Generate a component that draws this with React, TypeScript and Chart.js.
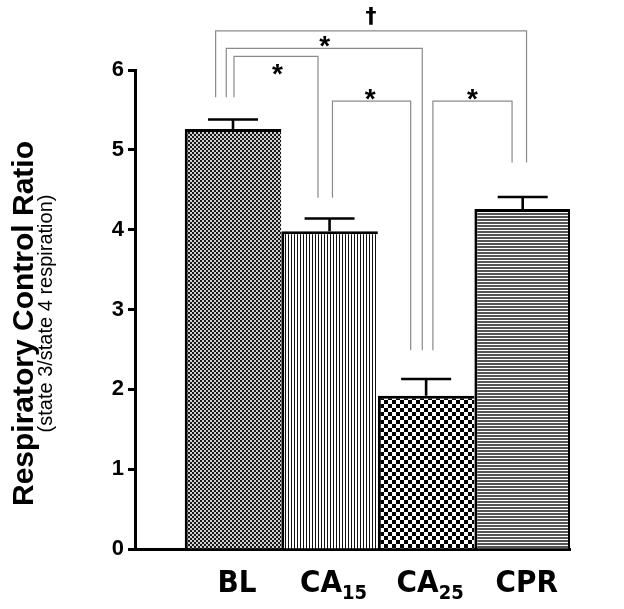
import { useEffect, useRef } from 'react';
import { Chart, registerables } from 'chart.js';

Chart.register(...registerables);

const categories = ['BL', 'CA15', 'CA25', 'CPR'];
const means = [5.26, 3.98, 1.92, 4.26];
const sems = [0.12, 0.16, 0.21, 0.15];
const yTicks = [0, 1, 2, 3, 4, 5, 6];
const yTitle = 'Respiratory Control Ratio';
const ySubtitle = '(state 3/state 4 respiration)';

// significance brackets (data units)
const bracketLabels = ['\u2020', '*', '*', '*', '*'];
const bracketX1 = [-0.18, -0.07, 0.01, 1.03, 2.07];
const bracketX2 = [3.04, 1.96, 0.88, 1.84, 2.89];
const bracketTop = [6.49, 6.27, 6.17, 5.61, 5.61];
const bracketLeftEnd = [5.66, 5.66, 5.66, 4.4, 2.49];
const bracketRightEnd = [4.84, 2.49, 4.4, 2.49, 4.84];
const bracketLabelX = [1.43, 0.95, 0.46, 1.42, 2.48];
const bracketLabelY = [6.68, 6.37, 6.02, 5.71, 5.71];

function makePattern(kind: number): CanvasPattern | string {
  const c = document.createElement('canvas');
  const g = c.getContext('2d');
  if (!g) return '#888';
  if (kind === 0) {
    c.width = 4; c.height = 4;
    g.fillStyle = '#d0d0d0'; g.fillRect(0, 0, 4, 4);
    g.fillStyle = '#181818';
    g.fillRect(0, 0, 2, 2); g.fillRect(2, 2, 2, 2);
  } else if (kind === 1) {
    c.width = 3; c.height = 3;
    g.fillStyle = '#ffffff'; g.fillRect(0, 0, 3, 3);
    g.fillStyle = '#111111'; g.fillRect(0, 0, 1, 3);
  } else if (kind === 2) {
    c.width = 8; c.height = 8;
    g.fillStyle = '#ffffff'; g.fillRect(0, 0, 8, 8);
    g.fillStyle = '#000000';
    g.fillRect(0, 0, 4, 4); g.fillRect(4, 4, 4, 4);
  } else {
    c.width = 3; c.height = 3;
    g.fillStyle = '#ffffff'; g.fillRect(0, 0, 3, 3);
    g.fillStyle = '#555555'; g.fillRect(0, 0, 3, 2);
  }
  return g.createPattern(c, 'repeat') || '#888';
}

const overlayPlugin = {
  id: 'overlay',
  afterDraw(chart: any) {
    const { ctx, scales } = chart;
    const xs = scales.x;
    const ys = scales.y;
    ctx.save();
    // error bars
    ctx.strokeStyle = '#000';
    ctx.lineWidth = 2.6;
    means.forEach((m, i) => {
      const cx = xs.getPixelForValue(i);
      const y0 = ys.getPixelForValue(m);
      const y1 = ys.getPixelForValue(m + sems[i]);
      ctx.beginPath();
      ctx.moveTo(cx, y0);
      ctx.lineTo(cx, y1);
      ctx.moveTo(cx - 25, y1);
      ctx.lineTo(cx + 25, y1);
      ctx.stroke();
    });
    // brackets
    ctx.strokeStyle = '#8a8a8a';
    ctx.lineWidth = 1.2;
    bracketLabels.forEach((lab, i) => {
      const x1 = xs.getPixelForValue(bracketX1[i]);
      const x2 = xs.getPixelForValue(bracketX2[i]);
      const yt = ys.getPixelForValue(bracketTop[i]);
      ctx.beginPath();
      ctx.moveTo(x1, ys.getPixelForValue(bracketLeftEnd[i]));
      ctx.lineTo(x1, yt);
      ctx.lineTo(x2, yt);
      ctx.lineTo(x2, ys.getPixelForValue(bracketRightEnd[i]));
      ctx.stroke();
      ctx.fillStyle = '#000';
      ctx.textAlign = 'center';
      ctx.textBaseline = 'middle';
      const lx = xs.getPixelForValue(bracketLabelX[i]);
      const ly = ys.getPixelForValue(bracketLabelY[i]);
      if (lab === '*') {
        ctx.font = 'bold 28px "Liberation Sans"';
        ctx.textBaseline = 'alphabetic';
        ctx.fillText(lab, lx, ly + 15);
      } else {
        ctx.font = 'bold 22px "DejaVu Sans"';
        ctx.fillText(lab, lx, ly + 2);
      }
    });
    // x labels with subscripts
    ctx.fillStyle = '#000';
    ctx.textBaseline = 'alphabetic';
    ctx.textAlign = 'left';
    categories.forEach((cat, i) => {
      const mm = cat.match(/^(\D+)(\d*)$/);
      const main = mm ? mm[1] : cat;
      const sub = mm ? mm[2] : '';
      const sx = 0.9;
      ctx.font = 'bold 31px "DejaVu Sans"';
      const wMain = ctx.measureText(main).width * sx;
      ctx.font = 'bold 20px "DejaVu Sans"';
      const wSub = sub ? ctx.measureText(sub).width * sx : 0;
      const cx = xs.getPixelForValue(i) + 4;
      const left = cx - (wMain + wSub) / 2;
      ctx.save();
      ctx.translate(left, 592);
      ctx.scale(sx, 1);
      ctx.font = 'bold 31px "DejaVu Sans"';
      ctx.fillText(main, 0, 0);
      if (sub) {
        ctx.font = 'bold 20px "DejaVu Sans"';
        ctx.fillText(sub, wMain / sx, 7);
      }
      ctx.restore();
    });
    // y titles
    const cy = (chart.chartArea.top + chart.chartArea.bottom) / 2;
    ctx.save();
    ctx.translate(33, cy + 14);
    ctx.rotate(-Math.PI / 2);
    ctx.textAlign = 'center';
    ctx.textBaseline = 'alphabetic';
    ctx.font = 'bold 30px "Liberation Sans"';
    ctx.fillText(yTitle, 0, 0);
    ctx.font = '20px "Liberation Sans"';
    ctx.fillText(ySubtitle, 10, 19);
    ctx.restore();
    ctx.restore();
  },
};

export default function App() {
  const ref = useRef<HTMLCanvasElement | null>(null);
  useEffect(() => {
    if (!ref.current) return;
    const patterns = [0, 1, 2, 3].map((k) => makePattern(k));
    const chart = new Chart(ref.current, {
      type: 'bar',
      data: {
        datasets: [
          {
            data: means.map((v, i) => ({ x: i, y: v })) as any,
            backgroundColor: patterns as any,
            borderColor: '#000',
            borderWidth: ((c: any) => ({
              left: 3,
              top: 3,
              right: c.dataIndex === categories.length - 1 ? 3 : 0,
              bottom: 0,
            })) as any,
            borderSkipped: false as any,
            barPercentage: 1,
            categoryPercentage: 1,
            inflateAmount: 0,
          },
        ],
      },
      options: {
        animation: false,
        responsive: false,
        devicePixelRatio: 1,
        layout: { padding: { left: 0, top: 70, right: 54, bottom: 0 } },
        plugins: { legend: { display: false }, tooltip: { enabled: false } },
        scales: {
          x: {
            type: 'linear',
            offset: false,
            min: -1.015,
            max: 3.49,
            afterBuildTicks: (s: any) => {
              s.ticks = categories.map((_, i) => ({ value: i }));
            },
            afterFit: (s: any) => {
              s.height = 60;
            },
            ticks: { display: false },
            grid: { display: false },
            border: { display: true, color: '#000', width: 3 },
          },
          y: {
            min: 0,
            max: 6,
            afterBuildTicks: (s: any) => {
              s.ticks = yTicks.map((v) => ({ value: v }));
            },
            afterFit: (s: any) => {
              s.width = 135;
            },
            ticks: {
              color: '#000',
              padding: 4,
              font: { family: 'Liberation Sans', weight: 'bold', size: 22 },
            },
            grid: {
              display: true,
              drawOnChartArea: false,
              drawTicks: true,
              tickLength: 7,
              tickWidth: 3,
              tickColor: '#000',
              color: '#000',
            },
            border: { display: true, color: '#000', width: 3 },
          },
        },
      },
      plugins: [overlayPlugin],
    });
    return () => chart.destroy();
  }, []);
  return (
    <div style={{ position: 'absolute', left: 0, top: 0, width: 624, height: 609, background: '#fff' }}>
      <canvas ref={ref} width={624} height={609} style={{ display: 'block' }} />
    </div>
  );
}
